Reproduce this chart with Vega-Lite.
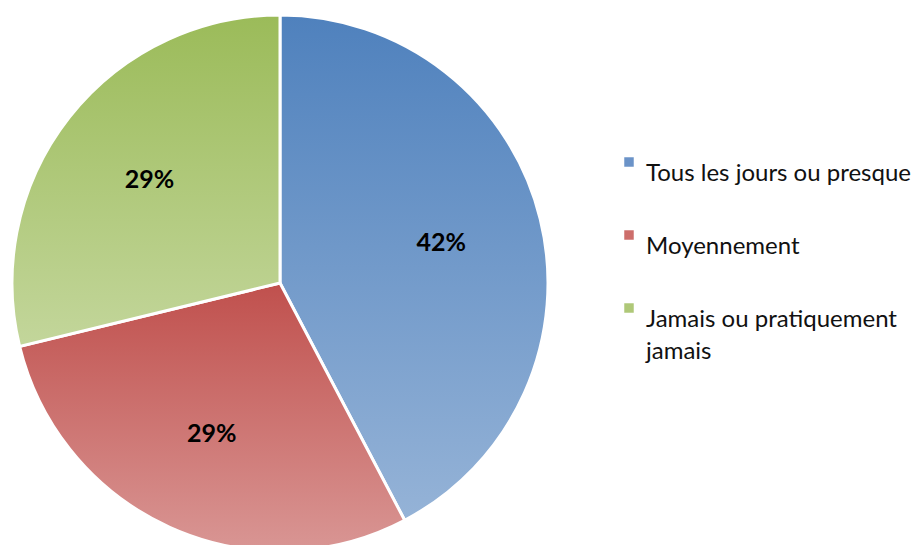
{
  "$schema": "https://vega.github.io/schema/vega-lite/v6.json",
  "width": 560,
  "height": 566,
  "padding": {"left": 0, "top": 0, "right": 358, "bottom": 0},
  "autosize": {"type": "none"},
  "background": "white",
  "config": {"view": {"stroke": null}, "style": {"guide-label": {"lineHeight": 32}}},
  "data": {"values": [
    {"cat": "Tous les jours ou presque", "order": 1, "value": 42.3, "label": "42%"},
    {"cat": "Moyennement", "order": 2, "value": 28.9, "label": "29%"},
    {"cat": "Jamais ou pratiquement jamais", "order": 3, "value": 28.8, "label": "29%"}
  ]},
  "encoding": {
    "theta": {"field": "value", "type": "quantitative", "stack": true},
    "order": {"field": "order", "type": "ordinal"}
  },
  "layer": [
    {
      "mark": {"type": "arc", "outerRadius": 268, "stroke": "white", "strokeWidth": 3},
      "encoding": {
        "color": {
          "field": "cat", "type": "nominal",
          "scale": {"domain": ["Tous les jours ou presque", "Moyennement", "Jamais ou pratiquement jamais"],
                    "range": ["#6B93C8", "#CD6E6B", "#AFC878"]},
          "legend": {
            "title": null, "orient": "none", "legendX": 617, "legendY": 150,
            "symbolType": "square", "symbolSize": 90, "symbolStrokeWidth": 0,
            "labelFont": "Lato", "labelFontSize": 24, "labelColor": "#111111",
            "labelLimit": 400, "labelOffset": 5, "rowPadding": 37,
            "labelBaseline": "top",
            "labelExpr": "datum.label == 'Jamais ou pratiquement jamais' ? ['Jamais ou pratiquement', 'jamais'] : datum.label"
          }
        }
      }
    },
    {
      "mark": {"type": "arc", "outerRadius": 268, "stroke": "white", "strokeWidth": 3},
      "encoding": {
        "fill": {
          "condition": [
            {"test": "datum.order == 1", "value": {"gradient": "linear", "x1": 0, "y1": 0, "x2": 0, "y2": 1, "stops": [{"offset": 0, "color": "#4F81BD"}, {"offset": 1, "color": "#95B3D7"}]}},
            {"test": "datum.order == 2", "value": {"gradient": "linear", "x1": 0, "y1": 0, "x2": 0, "y2": 1, "stops": [{"offset": 0, "color": "#C0504D"}, {"offset": 1, "color": "#D99694"}]}}
          ],
          "value": {"gradient": "linear", "x1": 0, "y1": 0, "x2": 0, "y2": 1, "stops": [{"offset": 0, "color": "#9BBB59"}, {"offset": 1, "color": "#C3D69B"}]}
        }
      }
    },
    {
      "mark": {"type": "text", "radius": 166, "font": "Lato", "fontSize": 25, "fontWeight": "bold", "color": "black"},
      "encoding": {"text": {"field": "label"}}
    }
  ]
}
